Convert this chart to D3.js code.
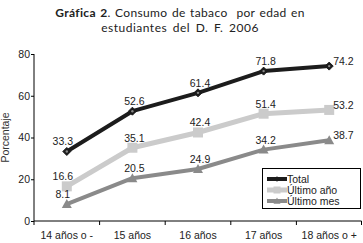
<!DOCTYPE html>
<html>
<head>
<meta charset="utf-8">
<script src="https://cdn.jsdelivr.net/npm/d3@7"></script>
<style>
  body { margin: 0; background: #fff; }
  svg text { font-family: "Liberation Sans", Arial, sans-serif; }
</style>
</head>
<body>
<div id="chart"></div>
<script>
const categories = ['14 años o -', '15 años', '16 años', '17 años', '18 años o +'];
const total = [33.3, 52.6, 61.4, 71.8, 74.2];
const ultimoAnio = [16.6, 35.1, 42.4, 51.4, 53.2];
const ultimoMes = [8.1, 20.5, 24.9, 34.2, 38.7];
const yTicks = [0, 20, 40, 60, 80];

const series = [
    { name: 'Total', values: total, color: '#1c1c1c', width: 4, marker: 'diamond' },
    { name: 'Último año', values: ultimoAnio, color: '#cbcbcb', width: 5, marker: 'square' },
    { name: 'Último mes', values: ultimoMes, color: '#8a8a8a', width: 4, marker: 'triangle' }
];

const width = 363, height = 243;
const padding = { top: 54, right: 1, bottom: 22, left: 34 };

const svg = d3.select('#chart').append('svg')
    .attr('width', width)
    .attr('height', height);

// title
const title = svg.append('text')
    .attr('x', 180).attr('y', 17)
    .attr('text-anchor', 'middle')
    .style('font-family', 'Lato, sans-serif')
    .style('font-size', '12px')
    .style('letter-spacing', '0.35px')
    .style('word-spacing', '1px')
    .style('white-space', 'pre')
    .attr('fill', '#222');
title.append('tspan').style('font-weight', 'bold').text('Gráfica 2');
title.append('tspan').text('. Consumo de tabaco  por edad en');
svg.append('text')
    .attr('x', 180).attr('y', 32)
    .attr('text-anchor', 'middle')
    .style('font-family', 'Lato, sans-serif')
    .style('font-size', '12px')
    .style('letter-spacing', '0.5px')
    .style('word-spacing', '2px')
    .attr('fill', '#222')
    .text('estudiantes del D. F. 2006');

const xBand = d3.scaleBand()
    .domain(categories)
    .range([padding.left, width - padding.right]);
const xScale = d => xBand(d) + xBand.bandwidth() / 2;

const yScale = d3.scaleLinear()
    .domain([0, 80])
    .range([height - padding.bottom, padding.top]);

// y axis
const yAxis = d3.axisLeft(yScale).tickValues(yTicks).tickSize(3).tickPadding(1);
const yAxisLine = svg.append('g')
    .attr('transform', 'translate(' + padding.left + ',0)')
    .call(yAxis);
yAxisLine.select('.domain').attr('d', 'M0,' + yScale(80) + 'V' + yScale(0));
yAxisLine.selectAll('text').style('font-size', '10.5px').attr('fill', '#222');

// x axis, ticks on band edges
const edges = categories.map(c => xBand(c)).concat([width - padding.right]);
const xAxisLine = svg.append('g')
    .attr('transform', 'translate(0,' + (height - padding.bottom) + ')');
xAxisLine.append('line')
    .attr('x1', padding.left).attr('x2', width - padding.right - 0.5)
    .attr('stroke', '#000');
xAxisLine.selectAll('.tick')
    .data(edges)
    .enter()
    .append('line')
    .attr('x1', d => Math.min(d, width - 1.5)).attr('x2', d => Math.min(d, width - 1.5))
    .attr('y1', 0).attr('y2', 4)
    .attr('stroke', '#000');
xAxisLine.selectAll('.lbl')
    .data(categories)
    .enter()
    .append('text')
    .attr('x', d => xScale(d))
    .attr('y', 18)
    .attr('text-anchor', 'middle')
    .style('font-size', '10.5px')
    .attr('fill', '#222')
    .text(d => d);

// y label
svg.append('text')
    .attr('transform', 'translate(9,' + ((yScale(0) + yScale(80)) / 2) + ') rotate(-90)')
    .attr('text-anchor', 'middle')
    .style('font-size', '10.5px')
    .attr('fill', '#333')
    .text('Porcentaje');

function markerPath(type) {
    if (type === 'diamond') return 'M0,-4L4,0L0,4L-4,0Z';
    if (type === 'square') return 'M-5,-5H5V5H-5Z';
    return 'M0,-5L5,4H-5Z';
}

const line = d3.line()
    .x((d, i) => xScale(categories[i]))
    .y(d => yScale(d));

series.forEach(s => {
    const g = svg.append('g');
    g.append('path')
        .datum(s.values)
        .attr('d', line)
        .attr('fill', 'none')
        .attr('stroke', s.color)
        .attr('stroke-width', s.width)
        .attr('stroke-linejoin', 'round');
    g.selectAll('.mk')
        .data(s.values)
        .enter()
        .append('path')
        .attr('transform', (d, i) => 'translate(' + xScale(categories[i]) + ',' + yScale(d) + ')')
        .attr('d', markerPath(s.marker))
        .attr('fill', s.color)
        .attr('stroke', s.marker === 'diamond' ? '#1c1c1c' : 'none');
    if (s.marker === 'diamond') {
        g.selectAll('.dot')
            .data(s.values)
            .enter()
            .append('circle')
            .attr('cx', (d, i) => xScale(categories[i]))
            .attr('cy', d => yScale(d))
            .attr('r', 1.2)
            .attr('fill', '#888');
    }
    const n = s.values.length;
    g.selectAll('.val')
        .data(s.values)
        .enter()
        .append('text')
        .attr('x', (d, i) => xScale(categories[i]) + (i === 0 ? -4 : i === n - 1 ? 4 : 2))
        .attr('y', (d, i) => yScale(d) - (i === n - 1 ? 1 : 6))
        .attr('text-anchor', (d, i) => i === n - 1 ? 'start' : 'middle')
        .style('font-size', '10.5px')
        .attr('fill', '#222')
        .text(d => d.toFixed(1));
});

// legend
const legend = svg.append('g').attr('transform', 'translate(262,168)');
legend.append('rect')
    .attr('x', 0.5).attr('y', 0.5)
    .attr('width', 98).attr('height', 40)
    .attr('fill', '#fff')
    .attr('stroke', '#000');
series.forEach((s, i) => {
    const y = 11 + i * 11;
    legend.append('line')
        .attr('x1', 5).attr('x2', 25)
        .attr('y1', y).attr('y2', y)
        .attr('stroke', s.color)
        .attr('stroke-width', s.width);
    legend.append('path')
        .attr('transform', 'translate(15,' + y + ') scale(0.7)')
        .attr('d', markerPath(s.marker))
        .attr('fill', s.color);
    legend.append('text')
        .attr('x', 25).attr('y', y + 4)
        .style('font-size', '10.5px')
        .attr('fill', '#222')
        .text(s.name);
});
</script>
</body>
</html>
